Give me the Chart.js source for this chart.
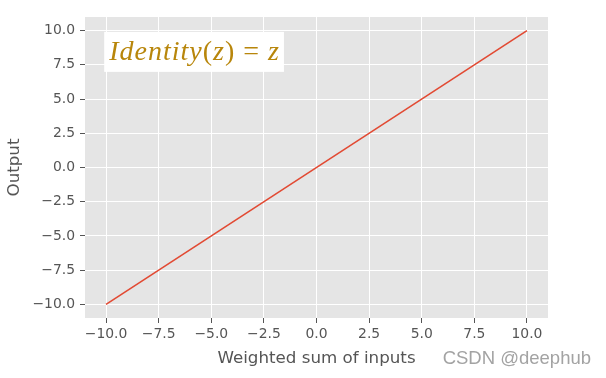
<!DOCTYPE html>
<html>
<head>
<meta charset="utf-8">
<script src="https://cdn.jsdelivr.net/npm/chart.js@4.4.0/dist/chart.umd.min.js"></script>
<style>
  html, body { margin: 0; padding: 0; background: #ffffff; }
  #wrap { position: relative; width: 606px; height: 378px; }
  canvas { display: block; }
</style>
</head>
<body>
<div id="wrap"><canvas id="c" width="606" height="378"></canvas></div>
<script>
// ---- data ----
const xValues = [-10, 10];
const yValues = [-10, 10];
const xTickValues = [-10, -7.5, -5, -2.5, 0, 2.5, 5, 7.5, 10];
const xTickLabels = ['\u221210.0', '\u22127.5', '\u22125.0', '\u22122.5', '0.0', '2.5', '5.0', '7.5', '10.0'];
const yTickValues = [-10, -7.5, -5, -2.5, 0, 2.5, 5, 7.5, 10];
const yTickLabels = ['\u221210.0', '\u22127.5', '\u22125.0', '\u22122.5', '0.0', '2.5', '5.0', '7.5', '10.0'];
const xRange = [-11, 11];
const yRange = [-11, 11];
const xTitle = 'Weighted sum of inputs';
const yTitle = 'Output';
const annotationParts = [
  { text: 'Identity', italic: true },
  { text: '(', italic: false },
  { text: 'z', italic: true },
  { text: ')', italic: false },
  { text: ' = ', italic: false },
  { text: 'z', italic: true }
];
const annotationAnchor = { x: -9.85, y: 8.45 };
const watermark = 'CSDN @deephub';

const points = xValues.map((x, i) => ({ x: x, y: yValues[i] }));

const bgPlugin = {
  id: 'bg',
  beforeDraw(chart) {
    const { ctx, chartArea: a } = chart;
    ctx.save();
    ctx.fillStyle = '#ffffff';
    ctx.fillRect(0, 0, chart.width, chart.height);
    ctx.fillStyle = '#E5E5E5';
    ctx.fillRect(a.left, a.top, a.right - a.left, a.bottom - a.top);
    ctx.restore();
  }
};

const annoPlugin = {
  id: 'anno',
  afterDatasetsDraw(chart) {
    const { ctx } = chart;
    const xs = chart.scales.x, ys = chart.scales.y;
    const px = xs.getPixelForValue(annotationAnchor.x);
    const py = ys.getPixelForValue(annotationAnchor.y);
    const size = 28;
    const fontFor = (it) => (it ? 'italic ' : '') + size + 'px "Liberation Serif", "DejaVu Serif", serif';
    ctx.save();
    ctx.letterSpacing = '1px';
    let total = 0;
    const widths = annotationParts.map(p => { ctx.font = fontFor(p.italic); const w = ctx.measureText(p.text).width; total += w; return w; });
    const padX = 5;
    const boxH = 40;
    ctx.fillStyle = '#ffffff';
    ctx.fillRect(px - padX, py - boxH / 2, total + 2 * padX - 1, boxH);
    ctx.fillStyle = '#B8860B';
    ctx.textBaseline = 'middle';
    ctx.textAlign = 'left';
    let cx = px;
    annotationParts.forEach((p, i) => { ctx.font = fontFor(p.italic); ctx.fillText(p.text, cx, py + 1); cx += widths[i]; });
    ctx.restore();
  },
  afterDraw(chart) {
    const { ctx } = chart;
    ctx.save();
    ctx.font = '18.5px "Liberation Sans", Arial, sans-serif';
    ctx.textAlign = 'right';
    ctx.textBaseline = 'alphabetic';
    ctx.fillStyle = '#ffffff';
    ctx.fillText(watermark, 592, 365);
    ctx.fillStyle = '#A3A3A3';
    ctx.fillText(watermark, 591, 364);
    ctx.restore();
  }
};

const tickFont = { family: '"DejaVu Sans", sans-serif', size: 13.9 };
const titleFont = { family: '"DejaVu Sans", sans-serif', size: 16.7 };

new Chart(document.getElementById('c'), {
  type: 'line',
  data: {
    datasets: [{
      data: points,
      borderColor: '#E24A33',
      borderWidth: 1.6,
      pointRadius: 0,
      tension: 0,
      fill: false
    }]
  },
  options: {
    responsive: false,
    animation: false,
    devicePixelRatio: 1,
    layout: { padding: { top: 17, right: 58, left: 0, bottom: 0 } },
    plugins: { legend: { display: false }, tooltip: { enabled: false } },
    scales: {
      x: {
        type: 'linear',
        min: xRange[0], max: xRange[1],
        afterBuildTicks: (s) => { s.ticks = xTickValues.map(v => ({ value: v })); },
        afterFit: (s) => { s.height = 60; },
        ticks: {
          autoSkip: false, maxRotation: 0, padding: 3,
          color: '#555555', font: tickFont,
          callback: (v) => { const i = xTickValues.indexOf(v); return i >= 0 ? xTickLabels[i] : ''; }
        },
        grid: { color: '#ffffff', lineWidth: 1, drawTicks: true, tickLength: 5, tickColor: '#555555', tickWidth: 1 },
        border: { display: false },
        title: { display: true, text: xTitle, color: '#555555', font: titleFont, padding: { top: 0, bottom: 9 } }
      },
      y: {
        type: 'linear',
        min: yRange[0], max: yRange[1],
        afterBuildTicks: (s) => { s.ticks = yTickValues.map(v => ({ value: v })); },
        afterFit: (s) => { s.width = 85; },
        ticks: {
          autoSkip: false, padding: 5,
          color: '#555555', font: tickFont,
          callback: (v) => { const i = yTickValues.indexOf(v); return i >= 0 ? yTickLabels[i] : ''; }
        },
        grid: { color: '#ffffff', lineWidth: 1, drawTicks: true, tickLength: 5, tickColor: '#555555', tickWidth: 1 },
        border: { display: false },
        title: { display: true, text: yTitle, color: '#555555', font: titleFont, padding: { top: 5, bottom: 0 } }
      }
    }
  },
  plugins: [bgPlugin, annoPlugin]
});
</script>
</body>
</html>
